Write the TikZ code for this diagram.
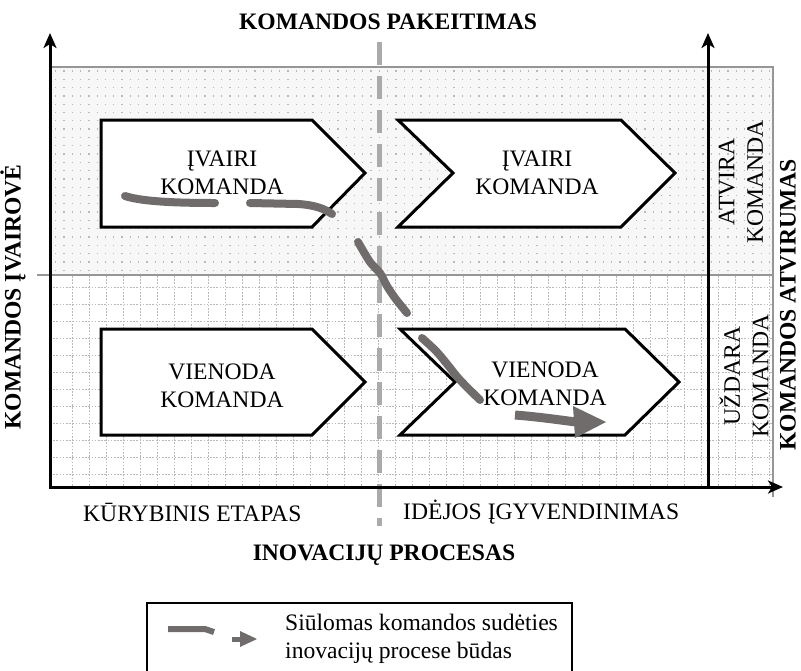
\documentclass[tikz,border=0pt]{standalone}
\usepackage{fontspec}
\setmainfont{Liberation Serif}
\usetikzlibrary{arrows.meta}
\definecolor{pathgray}{RGB}{112,108,108}
\definecolor{dashgray}{RGB}{170,170,170}
\definecolor{framegray}{RGB}{150,150,150}
\definecolor{dotgray}{RGB}{185,185,185}
\definecolor{zonefill}{RGB}{247,247,247}
\tikzset{
  axisline/.style={line width=3pt, {Stealth[length=15pt,width=13pt,inset=4pt]}-{Stealth[length=15pt,width=13pt,inset=4pt]}},
  uparrow/.style={line width=3pt, -{Stealth[length=15pt,width=13pt,inset=4pt]}},
  framebar/.style={draw=framegray, line width=1.8pt},
  stagebox/.style={draw=black, line width=3pt, fill=white, line join=miter},
  lbl/.style={font=\fontsize{23.6}{28.5}\selectfont, align=center, inner sep=0pt},
  ttl/.style={font=\bfseries\fontsize{23.6}{28.5}\selectfont, align=center, inner sep=0pt},
  route/.style={draw=pathgray, line width=8pt, line cap=round, line join=round},
  dotrow/.style={draw=dotgray, line width=1.3pt, dash pattern=on 1.3pt off 7pt},
  gridline/.style={draw=dotgray, line width=0.9pt, dash pattern=on 1.6pt off 1.6pt}
}
\begin{document}
\begin{tikzpicture}[x=1pt,y=-1pt]
\useasboundingbox (0,0) rectangle (801,670);

% upper zone: light fill with a dot raster
\fill[zonefill] (52,67) rectangle (773,275);
\foreach \yy in {71,79.3,...,272} \draw[dotrow] (55,\yy) -- (773,\yy);
% lower zone: dotted grid
\foreach \xx in {72,89,...,772} \draw[gridline] (\xx,276) -- (\xx,486);
\foreach \yy in {287,304,...,484} \draw[gridline] (50,\yy) -- (773,\yy);

% frame lines
\draw[framebar] (52,67) -- (773,67) -- (773,497);
\draw[framebar] (37,275) -- (773,275);

% team-change divider
\draw[dashgray, line width=5pt, dash pattern=on 23pt off 11pt] (379,42) -- (379,526);

% axes
\coordinate (ytop) at (50,33);
\coordinate (origin) at (50,487);
\coordinate (xend) at (783,487);
\coordinate (rbase) at (708,487);
\coordinate (rtop) at (708,33);
\draw[axisline] (ytop) -- (origin) -- (xend);
\draw[uparrow] (rbase) -- (rtop);

% stage shapes
\draw[stagebox] (101,120) -- (312,120) -- (365,173) -- (312,227) -- (101,227) -- cycle;
\draw[stagebox] (101,329) -- (312,329) -- (365,382) -- (312,435) -- (101,435) -- cycle;
\draw[stagebox] (398,120) -- (621,120) -- (675,173) -- (621,227) -- (398,227) -- (453,173) -- cycle;
\draw[stagebox] (400,329) -- (625,329) -- (679,382) -- (625,435) -- (400,435) -- (455,382) -- cycle;

\node[lbl] (s1) at (222,173) {ĮVAIRI\\KOMANDA};
\node[lbl] (s2) at (537,173) {ĮVAIRI\\KOMANDA};
\node[lbl] (s3) at (222,386) {VIENODA\\KOMANDA};
\node[lbl] (s4) at (545,384) {VIENODA\\KOMANDA};

% titles and axis labels
\node[ttl] (top) at (388,22) {KOMANDOS PAKEITIMAS};
\node[ttl, rotate=90] (left) at (13,297) {KOMANDOS ĮVAIROVĖ};
\node[ttl, rotate=90] (right) at (788,305) {KOMANDOS ATVIRUMAS};
\node[lbl, rotate=90] (open) at (741,182) {ATVIRA\\KOMANDA};
\node[lbl, rotate=90] (closed) at (744,376) {UŽDARA\\KOMANDA};
\node[lbl, anchor=west] (creative) at (83,512) {KŪRYBINIS ETAPAS};
\node[lbl, anchor=west] (realise) at (403,512) {IDĖJOS ĮGYVENDINIMAS};
\node[ttl] (bottom) at (384,555) {INOVACIJŲ PROCESAS};

% proposed route of team composition
\draw[route] (125,196) .. controls (140,201) and (170,203) .. (215,203);
\draw[route] (250,203) -- (298,204) .. controls (315,205) and (325,209) .. (332,214);
\draw[route] plot[smooth] coordinates {(358,242) (370,262) (380,273) (387,286) (395,298) (407,313)};
\draw[route] plot[smooth] coordinates {(422,338) (436,351) (447,364) (460,380) (480,400)};
\draw[route, line width=9pt, line cap=butt] (515,415) .. controls (540,417) and (560,420) .. (576,422);
\fill[pathgray] (573,406) -- (606,422) -- (575,438) -- cycle;

% legend
\draw[line width=2.5pt] (147,603) rectangle (572,690);
\draw[route, line width=6pt, line cap=butt] (168,629) -- (205,629) -- (214,632);
\draw[pathgray, line width=5pt] (232,639) -- (243,639);
\fill[pathgray] (240,631) -- (257,639) -- (240,647) -- cycle;
\node[lbl, align=left, anchor=west] (legend) at (285,639) {Siūlomas komandos sudėties\\inovacijų procese būdas};
\end{tikzpicture}
\end{document}
